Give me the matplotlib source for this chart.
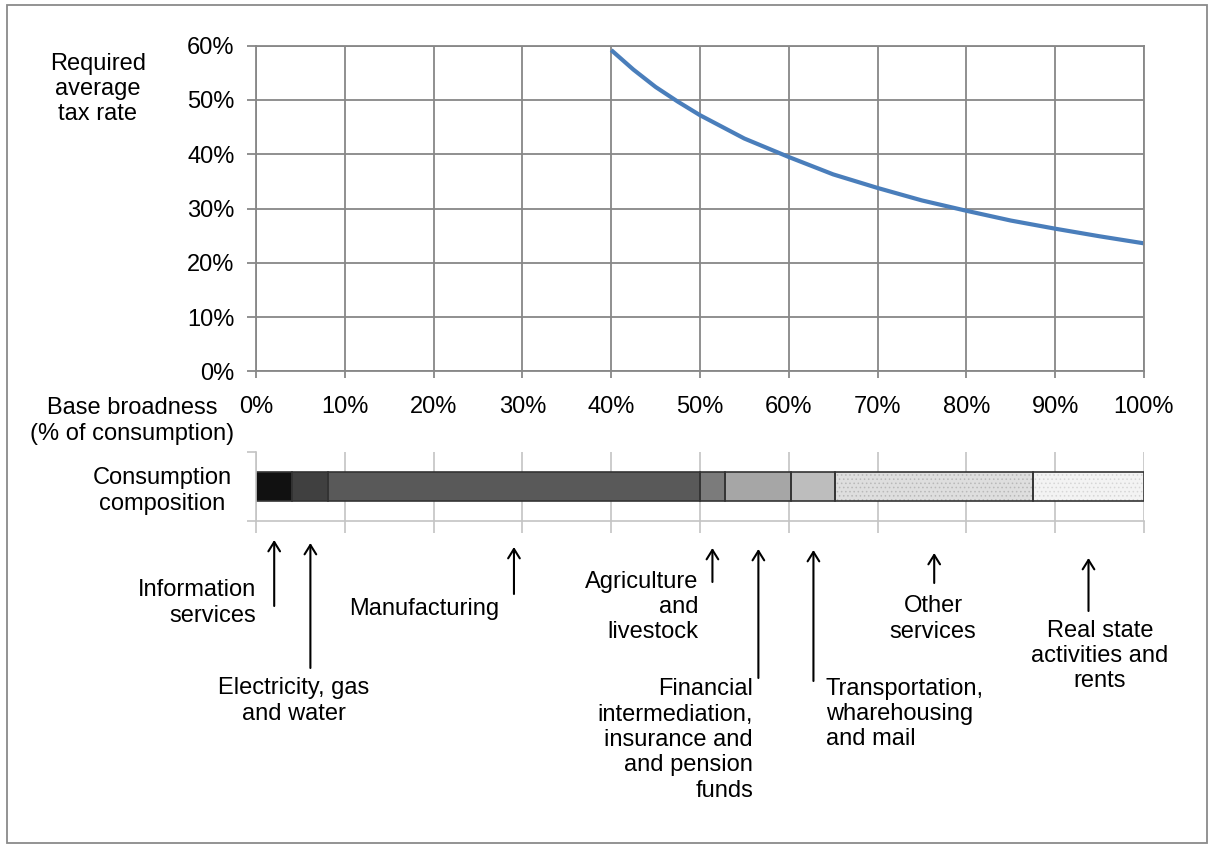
import numpy as np
import matplotlib
matplotlib.use('Agg')
import matplotlib.pyplot as plt
import matplotlib.transforms as mtransforms
from matplotlib.patches import Rectangle
from matplotlib.ticker import FuncFormatter

plt.rcParams['font.family'] = ['Liberation Sans', 'DejaVu Sans']
plt.rcParams['font.size'] = 17
plt.rcParams['hatch.linewidth'] = 0.6

# Required average tax rate vs. base broadness
broadness = [40, 42.5, 45, 47.5, 50, 55, 60, 65, 70, 75, 80, 85, 90, 95, 100]
tax_rate = [59.2, 55.6, 52.4, 49.7, 47.2, 42.9, 39.5, 36.3, 33.8, 31.5, 29.6, 27.8, 26.3, 24.9, 23.6]

# Consumption composition (% of consumption)
sectors = ['Information\nservices', 'Electricity, gas\nand water', 'Manufacturing',
           'Agriculture\nand\nlivestock',
           'Financial\nintermediation,\ninsurance and\nand pension\nfunds',
           'Transportation,\nwharehousing\nand mail', 'Other\nservices',
           'Real state\nactivities and\nrents']
shares = [4.1, 4.05, 41.8, 2.9, 7.45, 4.95, 22.25, 12.5]
colors = ['#111111', '#404040', '#595959', '#7b7b7b', '#a6a6a6', '#bdbdbd', '#dedede', '#f3f3f3']
hatches = [None, None, None, None, None, None, '....', '....']
hatch_colors = ['none'] * 6 + ['#b8b8b8', '#d6d6d6']

W, H = 1214, 850
fig = plt.figure(figsize=(W / 100, H / 100), dpi=100)


def fx(px):
    return px / W


def fy(py):
    return 1 - py / H


grid_c = '#878787'
pct = FuncFormatter(lambda v, p: f'{v:.0f}%')

# main chart
ax = fig.add_axes([fx(256), fy(371.5), fx(1144) - fx(256), fy(45.7) - fy(371.5)])
ax.plot(broadness, tax_rate, color='#4a7ebb', lw=3, solid_capstyle='butt')
ax.set_xlim(0, 100)
ax.set_ylim(0, 60)
ax.set_xticks(np.arange(0, 101, 10))
ax.set_yticks(np.arange(0, 61, 10))
ax.xaxis.set_major_formatter(pct)
ax.yaxis.set_major_formatter(pct)
ax.grid(True, color=grid_c, lw=1.3)
ax.set_axisbelow(True)
for s in ax.spines.values():
    s.set_color(grid_c)
    s.set_linewidth(1.3)
ax.tick_params(axis='y', direction='out', length=6.5, width=1.3, color=grid_c, pad=9)
ax.tick_params(axis='x', direction='out', length=5, width=1.3, color=grid_c, pad=13)

# consumption composition bar
light = '#c4c4c4'
axb = fig.add_axes([fx(256), fy(521), fx(1144) - fx(256), fy(452) - fy(521)])
lefts = np.concatenate([[0], np.cumsum(shares)[:-1]])
for l, w, c, h, hc in zip(lefts, shares, colors, hatches, hatch_colors):
    axb.barh(0.5, w, left=l, height=0.43, color=c, hatch=h, edgecolor=hc, lw=0)
axb.barh(0.5, shares, left=lefts, height=0.43, fill=False, edgecolor='#333333', lw=1.2)
axb.set_xlim(0, 100)
axb.set_ylim(0, 1)
axb.set_xticks(np.arange(0, 101, 10))
axb.set_yticks([0, 1])
axb.set_xticklabels([])
axb.set_yticklabels([])
axb.grid(True, axis='x', color=light, lw=1.2)
axb.set_axisbelow(True)
axb.spines['top'].set_visible(False)
axb.spines['right'].set_visible(False)
for s in ['left', 'bottom']:
    axb.spines[s].set_color(light)
    axb.spines[s].set_linewidth(1.2)
axb.tick_params(axis='x', direction='out', length=8.6, width=1.2, color=light)
axb.tick_params(axis='y', direction='out', length=6.5, width=1.2, color=light)

# arrows and sector labels
trans = mtransforms.blended_transform_factory(axb.transData, fig.transFigure)
centers = lefts + np.array(shares) / 2
# (arrow top, arrow bottom, text x, text y, alignment) in pixels
label_layout = [
    (540, 606, 256, 603, 'right'),
    (543, 668, 294, 701, 'center'),
    (547, 594, 424, 609, 'center'),
    (548, 582, 698, 607, 'right'),
    (549, 678, 753, 740, 'right'),
    (550, 681, 826, 714, 'left'),
    (553, 583, 933, 619, 'center'),
    (558, 611, 1100, 656, 'center'),
]
for name, cx, (top, bot, tx, ty, ha) in zip(sectors, centers, label_layout):
    axb.annotate('', xy=(cx, fy(top)), xytext=(cx, fy(bot)), xycoords=trans,
                 textcoords=trans, annotation_clip=False,
                 arrowprops=dict(arrowstyle='->,head_length=0.45,head_width=0.28',
                                 lw=1.5, color='black', mutation_scale=15,
                                 shrinkA=0, shrinkB=0))
    fig.text(fx(tx), fy(ty), name, ha=ha, va='center', multialignment=ha,
             linespacing=1.2)

# axis captions
fig.text(fx(98), fy(89), 'Required\naverage\ntax rate', ha='center', va='center', linespacing=1.2)
fig.text(fx(132), fy(421), 'Base broadness\n(% of consumption)', ha='center', va='center', linespacing=1.2)
fig.text(fx(162), fy(491), 'Consumption\ncomposition', ha='center', va='center', linespacing=1.2)

# outer frame
fig.patches.append(Rectangle((fx(7), fy(843)), fx(1207) - fx(7), fy(5) - fy(843),
                             transform=fig.transFigure, fill=False, edgecolor='#8a8a8a', lw=1.3))

fig.savefig('out.png', dpi=100)
